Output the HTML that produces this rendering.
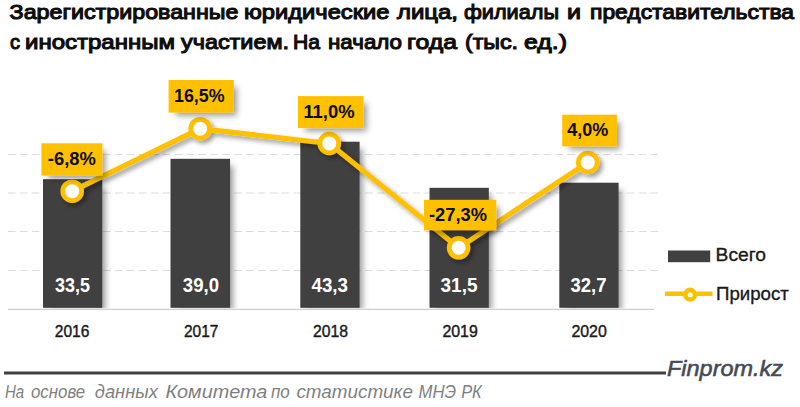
<!DOCTYPE html>
<html><head><meta charset="utf-8">
<style>
html,body{margin:0;padding:0;background:#fff;}
body{width:800px;height:407px;overflow:hidden;position:relative;}
svg{position:absolute;left:0;top:0;}
text{font-family:"Liberation Sans",sans-serif;}
</style></head>
<body>
<svg width="800" height="407" viewBox="0 0 800 407">
<defs>
<filter id="sh" x="-30%" y="-30%" width="160%" height="160%">
<feMorphology in="SourceAlpha" operator="erode" radius="1.5"/>
<feGaussianBlur stdDeviation="3"/>
<feOffset dx="4.5" dy="4.5" result="b"/>
<feComponentTransfer><feFuncA type="linear" slope="0.4"/></feComponentTransfer>
<feMerge><feMergeNode/><feMergeNode in="SourceGraphic"/></feMerge>
</filter>
<filter id="sh2" x="-30%" y="-30%" width="160%" height="160%">
<feGaussianBlur in="SourceAlpha" stdDeviation="2.5"/>
<feOffset dx="3" dy="3" result="b"/>
<feComponentTransfer><feFuncA type="linear" slope="0.4"/></feComponentTransfer>
<feMerge><feMergeNode/><feMergeNode in="SourceGraphic"/></feMerge>
</filter>
<clipPath id="pc"><rect x="0" y="60" width="800" height="248.3"/></clipPath>
</defs>
<g>
<text x="9.60" y="19.0" font-size="21" font-weight="normal" font-style="normal" fill="#0d0d0d" stroke="#0d0d0d" stroke-width="1.1" textLength="228.90" lengthAdjust="spacingAndGlyphs">Зарегистрированные</text>
<text x="244.00" y="19.0" font-size="21" font-weight="normal" font-style="normal" fill="#0d0d0d" stroke="#0d0d0d" stroke-width="1.1" textLength="145.50" lengthAdjust="spacingAndGlyphs">юридические</text>
<text x="397.00" y="19.0" font-size="21" font-weight="normal" font-style="normal" fill="#0d0d0d" stroke="#0d0d0d" stroke-width="1.1" textLength="61.00" lengthAdjust="spacingAndGlyphs">лица,</text>
<text x="464.00" y="19.0" font-size="21" font-weight="normal" font-style="normal" fill="#0d0d0d" stroke="#0d0d0d" stroke-width="1.1" textLength="95.00" lengthAdjust="spacingAndGlyphs">филиалы</text>
<text x="567.00" y="19.0" font-size="21" font-weight="normal" font-style="normal" fill="#0d0d0d" stroke="#0d0d0d" stroke-width="1.1" textLength="14.00" lengthAdjust="spacingAndGlyphs">и</text>
<text x="590.00" y="19.0" font-size="21" font-weight="normal" font-style="normal" fill="#0d0d0d" stroke="#0d0d0d" stroke-width="1.1" textLength="204.00" lengthAdjust="spacingAndGlyphs">представительства</text>
<text x="10.00" y="49.2" font-size="21" font-weight="normal" font-style="normal" fill="#0d0d0d" stroke="#0d0d0d" stroke-width="1.1" textLength="10.00" lengthAdjust="spacingAndGlyphs">с</text>
<text x="25.00" y="49.2" font-size="21" font-weight="normal" font-style="normal" fill="#0d0d0d" stroke="#0d0d0d" stroke-width="1.1" textLength="150.00" lengthAdjust="spacingAndGlyphs">иностранным</text>
<text x="181.00" y="49.2" font-size="21" font-weight="normal" font-style="normal" fill="#0d0d0d" stroke="#0d0d0d" stroke-width="1.1" textLength="108.00" lengthAdjust="spacingAndGlyphs">участием.</text>
<text x="293.00" y="49.2" font-size="21" font-weight="normal" font-style="normal" fill="#0d0d0d" stroke="#0d0d0d" stroke-width="1.1" textLength="27.00" lengthAdjust="spacingAndGlyphs">На</text>
<text x="328.00" y="49.2" font-size="21" font-weight="normal" font-style="normal" fill="#0d0d0d" stroke="#0d0d0d" stroke-width="1.1" textLength="74.00" lengthAdjust="spacingAndGlyphs">начало</text>
<text x="407.00" y="49.2" font-size="21" font-weight="normal" font-style="normal" fill="#0d0d0d" stroke="#0d0d0d" stroke-width="1.1" textLength="50.00" lengthAdjust="spacingAndGlyphs">года</text>
<text x="465.00" y="49.2" font-size="21" font-weight="normal" font-style="normal" fill="#0d0d0d" stroke="#0d0d0d" stroke-width="1.1" textLength="53.00" lengthAdjust="spacingAndGlyphs">(тыс.</text>
<text x="524.00" y="49.2" font-size="21" font-weight="normal" font-style="normal" fill="#0d0d0d" stroke="#0d0d0d" stroke-width="1.1" textLength="43.00" lengthAdjust="spacingAndGlyphs">ед.)</text>
</g>
<g stroke="#dcdcdc" stroke-width="1.1" stroke-dasharray="7.6,4.3">
<line x1="8" y1="154.5" x2="658" y2="154.5"/>
<line x1="8" y1="193" x2="658" y2="193"/>
<line x1="8" y1="231.5" x2="658" y2="231.5"/>
<line x1="8" y1="270.5" x2="658" y2="270.5"/>
</g>
<line x1="8" y1="309.3" x2="654" y2="309.3" stroke="#cfcfcf" stroke-width="1.3"/>
<g clip-path="url(#pc)"><g fill="#404040" filter="url(#sh)">
<rect x="43" y="179.2" width="59.3" height="128.6"/>
<rect x="170.5" y="158.8" width="59.6" height="149"/>
<rect x="300.3" y="141.7" width="59.3" height="166.1"/>
<rect x="429.5" y="187.8" width="59.3" height="120"/>
<rect x="559.3" y="182.7" width="59.3" height="125.1"/>
</g></g>
<g>
<text x="55.00" y="291.5" font-size="19.5" font-weight="bold" font-style="normal" fill="#ffffff" textLength="35.00" lengthAdjust="spacingAndGlyphs">33,5</text>
<text x="182.80" y="291.5" font-size="19.5" font-weight="bold" font-style="normal" fill="#ffffff" textLength="36.20" lengthAdjust="spacingAndGlyphs">39,0</text>
<text x="311.50" y="291.5" font-size="19.5" font-weight="bold" font-style="normal" fill="#ffffff" textLength="36.50" lengthAdjust="spacingAndGlyphs">43,3</text>
<text x="440.50" y="291.5" font-size="19.5" font-weight="bold" font-style="normal" fill="#ffffff" textLength="37.00" lengthAdjust="spacingAndGlyphs">31,5</text>
<text x="570.50" y="291.5" font-size="19.5" font-weight="bold" font-style="normal" fill="#ffffff" textLength="36.00" lengthAdjust="spacingAndGlyphs">32,7</text>
</g>
<g filter="url(#sh2)">
<polyline points="72.2,191.2 200.2,128.7 329.3,143.5 458.6,247.8 587.8,162.5" fill="none" stroke="#ffc000" stroke-width="5.2" stroke-linejoin="round"/>
<g fill="#fff" stroke="#ffc000" stroke-width="4.8">
<circle cx="72.2" cy="191.2" r="9.4"/>
<circle cx="200.2" cy="128.7" r="9.4"/>
<circle cx="329.3" cy="143.5" r="9.4"/>
<circle cx="458.6" cy="247.8" r="9.4"/>
<circle cx="587.8" cy="162.5" r="9.4"/>
</g>
</g>
<g fill="#ffc000" filter="url(#sh)">
<rect x="41.4" y="143.3" width="61" height="32.3"/>
<rect x="168.6" y="80" width="65.2" height="32.6"/>
<rect x="298" y="96.1" width="65.5" height="32"/>
<rect x="424" y="199.8" width="72.3" height="30.5"/>
<rect x="562.2" y="114.7" width="54.7" height="31.7"/>
</g>
<g>
<text x="47.80" y="165.1" font-size="18" font-weight="bold" font-style="normal" fill="#0d0d0d" textLength="48.00" lengthAdjust="spacingAndGlyphs">-6,8%</text>
<text x="174.00" y="102" font-size="18" font-weight="bold" font-style="normal" fill="#0d0d0d" textLength="50.60" lengthAdjust="spacingAndGlyphs">16,5%</text>
<text x="303.40" y="117.6" font-size="18" font-weight="bold" font-style="normal" fill="#0d0d0d" textLength="51.20" lengthAdjust="spacingAndGlyphs">11,0%</text>
<text x="429.00" y="221.3" font-size="18" font-weight="bold" font-style="normal" fill="#0d0d0d" textLength="58.00" lengthAdjust="spacingAndGlyphs">-27,3%</text>
<text x="567.20" y="135.9" font-size="18" font-weight="bold" font-style="normal" fill="#0d0d0d" textLength="41.00" lengthAdjust="spacingAndGlyphs">4,0%</text>
</g>
<g>
<text x="54.80" y="336.9" font-size="16" font-weight="normal" font-style="normal" fill="#1a1a1a" stroke="#1a1a1a" stroke-width="0.4" textLength="34.60" lengthAdjust="spacingAndGlyphs">2016</text>
<text x="184.00" y="336.9" font-size="16" font-weight="normal" font-style="normal" fill="#1a1a1a" stroke="#1a1a1a" stroke-width="0.4" textLength="34.40" lengthAdjust="spacingAndGlyphs">2017</text>
<text x="313.00" y="336.9" font-size="16" font-weight="normal" font-style="normal" fill="#1a1a1a" stroke="#1a1a1a" stroke-width="0.4" textLength="35.00" lengthAdjust="spacingAndGlyphs">2018</text>
<text x="442.40" y="336.9" font-size="16" font-weight="normal" font-style="normal" fill="#1a1a1a" stroke="#1a1a1a" stroke-width="0.4" textLength="35.40" lengthAdjust="spacingAndGlyphs">2019</text>
<text x="571.40" y="336.9" font-size="16" font-weight="normal" font-style="normal" fill="#1a1a1a" stroke="#1a1a1a" stroke-width="0.4" textLength="35.40" lengthAdjust="spacingAndGlyphs">2020</text>
</g>
<rect x="668" y="250.5" width="42.2" height="11.7" fill="#404040"/>
<line x1="665" y1="293.7" x2="712.5" y2="293.7" stroke="#ffc000" stroke-width="4.5"/>
<circle cx="690.1" cy="294.7" r="4.8" fill="#fff" stroke="#ffc000" stroke-width="4.6"/>
<g>
<text x="715.60" y="260.6" font-size="18.5" font-weight="normal" font-style="normal" fill="#1a1a1a" stroke="#1a1a1a" stroke-width="0.35" textLength="50.40" lengthAdjust="spacingAndGlyphs">Всего</text>
<text x="716.00" y="300" font-size="18.5" font-weight="normal" font-style="normal" fill="#1a1a1a" stroke="#1a1a1a" stroke-width="0.35" textLength="72.80" lengthAdjust="spacingAndGlyphs">Прирост</text>
</g>
<line x1="4" y1="373" x2="666" y2="373" stroke="#404040" stroke-width="3.2"/>
<g>
<text x="667.00" y="376" font-size="22" font-weight="normal" font-style="italic" fill="#454a55" stroke="#454a55" stroke-width="0.55" textLength="116.00" lengthAdjust="spacingAndGlyphs">Finprom.kz</text>
<text x="5.00" y="398.3" font-size="18" font-weight="normal" font-style="italic" fill="#7f7f7f" textLength="19.20" lengthAdjust="spacingAndGlyphs">На</text>
<text x="31.00" y="398.3" font-size="18" font-weight="normal" font-style="italic" fill="#7f7f7f" textLength="54.20" lengthAdjust="spacingAndGlyphs">основе</text>
<text x="94.80" y="398.3" font-size="18" font-weight="normal" font-style="italic" fill="#7f7f7f" textLength="63.00" lengthAdjust="spacingAndGlyphs">данных</text>
<text x="165.40" y="398.3" font-size="18" font-weight="normal" font-style="italic" fill="#7f7f7f" textLength="102.00" lengthAdjust="spacingAndGlyphs">Комитета</text>
<text x="271.00" y="398.3" font-size="18" font-weight="normal" font-style="italic" fill="#7f7f7f" textLength="18.80" lengthAdjust="spacingAndGlyphs">по</text>
<text x="296.40" y="398.3" font-size="18" font-weight="normal" font-style="italic" fill="#7f7f7f" textLength="116.60" lengthAdjust="spacingAndGlyphs">статистике</text>
<text x="418.50" y="398.3" font-size="18" font-weight="normal" font-style="italic" fill="#7f7f7f" textLength="37.50" lengthAdjust="spacingAndGlyphs">МНЭ</text>
<text x="461.20" y="398.3" font-size="18" font-weight="normal" font-style="italic" fill="#7f7f7f" textLength="20.60" lengthAdjust="spacingAndGlyphs">РК</text>
</g>

</svg>
</body></html>
